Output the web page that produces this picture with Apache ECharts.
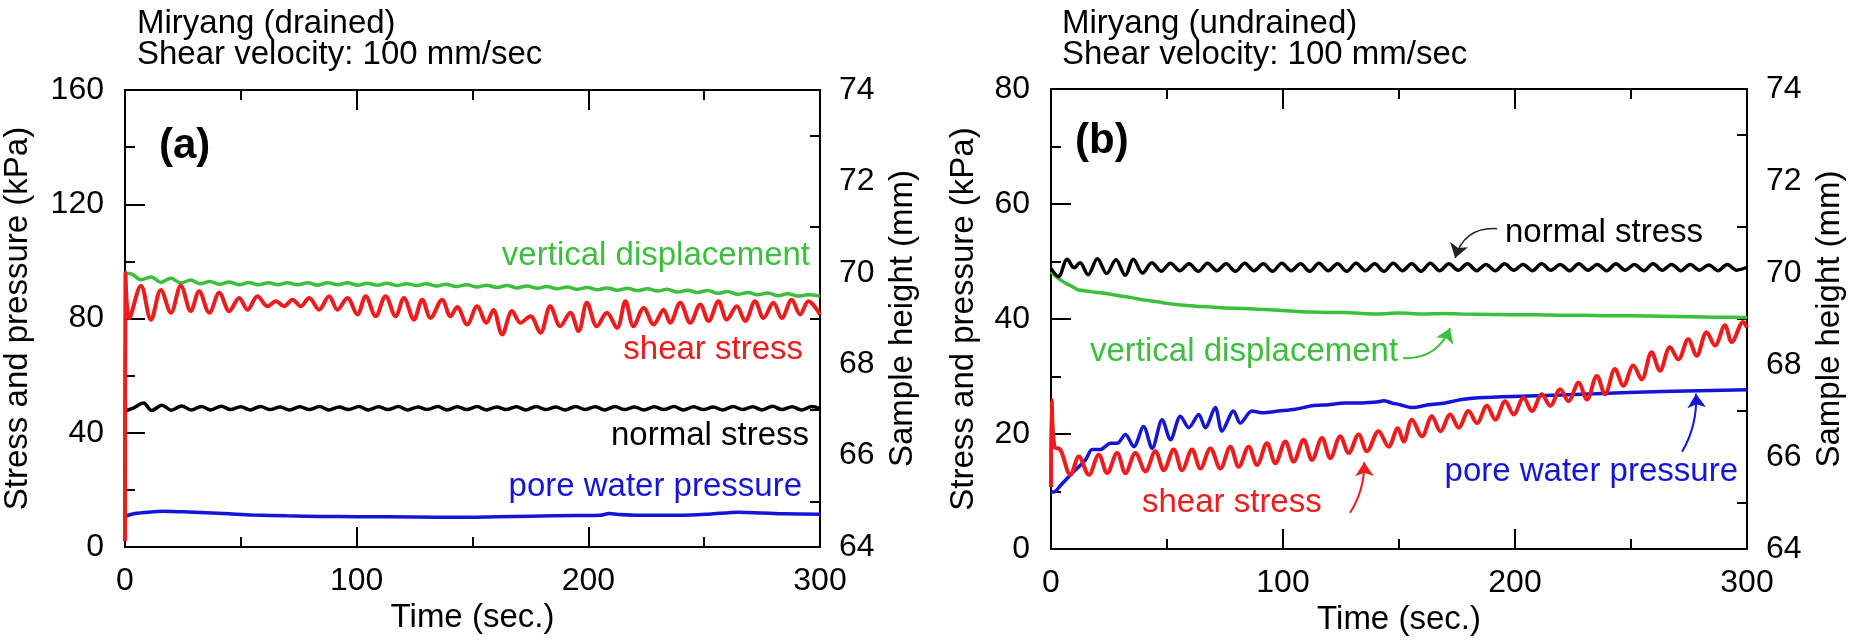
<!DOCTYPE html>
<html>
<head>
<meta charset="utf-8">
<script src="https://cdn.jsdelivr.net/npm/echarts@6/dist/echarts.min.js"></script>
<style>
html,body{margin:0;padding:0;background:#fff;}
#chart{width:1851px;height:643px;}
</style>
</head>
<body>
<div id="chart"></div>
<script>
// ---------- DATA ----------
// Panel (a): Miryang (drained)   [time (s), value]
const aShear = [[0,2],[0.2,96],[1.9,80.2],[6.9,91.5],[11.2,79.6],[15.5,90],[19.8,82],[24.1,91.5],[28.4,82.6],[32,89.5],[36.4,82],[40.7,89],[45,82.6],[49.3,87.2],[52.9,83.1],[57.2,87.8],[61.5,84.3],[65.1,86],[68.7,84.3],[72.3,86.6],[75.9,84.3],[79.5,87.2],[83.8,83.1],[88.1,87.8],[91.7,83.1],[96,87.2],[100.3,81.4],[103.9,87.8],[108.2,80.8],[112.5,87.8],[116.8,80.8],[120.4,87.2],[124.7,79.6],[128.3,86.6],[131.9,80.2],[136.9,86.6],[140.5,80.8],[143.4,84],[147.7,77.9],[152,84.3],[156,78.5],[159,83],[162.8,74.4],[167.1,82.6],[170.7,78.5],[175,80.8],[179.3,75],[183.6,84.3],[187.9,77.3],[192.2,82],[195.8,75.6],[199.4,85.5],[203.7,77.3],[208,82],[212.4,76.7],[216,86],[219.5,77.3],[223.9,83.7],[228.2,77.9],[232.5,83.1],[235.3,78.5],[239.7,85.5],[244,78.5],[248.3,84.9],[251.9,79.1],[256.2,86],[259.8,79.6],[264.1,84.3],[267.7,79.1],[272,86],[275.6,80.2],[279.9,85.5],[283.5,80.2],[287.8,86.6],[291.4,81.4],[295,86],[300,81.4]];
const aNormal = [[0,47.5],[2,48.2],[4,48.8],[8,50.4],[11.5,47.8],[16,49.6],[20,47.9],[24.5,49.4],[28.5,48.0],[33,49.2],[37,48.0],[41.5,49.3],[45.5,48.1],[50,49.1],[54,48.0],[58.5,49.2],[62.5,48.1],[67,49.0],[71,48.0],[75.5,49.1],[79.5,48.1],[84,49.2],[88,48.0],[92.5,49.0],[96.5,48.1],[101,49.2],[105,48.0],[109.5,49.1],[113.5,48.1],[118,49.2],[122,48.0],[126.5,49.0],[130.5,48.1],[135,49.2],[139,48.0],[143.5,49.1],[147.5,48.1],[152,49.2],[156,48.0],[160.5,49.0],[164.5,48.1],[169,49.1],[173,48.0],[177.5,49.2],[181.5,48.1],[186,49.0],[190,48.0],[194.5,49.2],[198.5,48.1],[203,49.1],[207,48.0],[211.5,49.2],[215.5,48.1],[220,49.0],[224,48.0],[228.5,49.1],[232.5,48.1],[237,49.2],[241,48.0],[245.5,49.1],[249.5,48.1],[254,49.0],[258,48.0],[262.5,49.2],[266.5,48.1],[271,49.1],[275,48.0],[279.5,49.3],[283.5,48.1],[288,49.1],[292,48.0],[296.5,49.2],[300,48.4]];
const aPore = [[0,10.5],[2,11.3],[5,11.8],[10,12.2],[16,12.5],[25,12.3],[35,12.0],[45,11.6],[55,11.2],[70,10.9],[85,10.7],[100,10.6],[125,10.5],[145,10.4],[160,10.6],[175,10.8],[195,11.0],[205,11.1],[209,11.7],[213,11.4],[225,11.1],[240,11.1],[252,11.5],[265,12.2],[275,11.9],[285,11.6],[300,11.5]];
const aHeight = [[0,69.99],[3,69.97],[6.9,69.85],[11.2,69.91],[15.5,69.79],[19.8,69.88],[24.1,69.78],[28.4,69.84],[32.5,69.76],[36.5,69.81],[41,69.75],[45,69.80],[49.5,69.74],[53.5,69.79],[57.5,69.74],[62,69.78],[66,69.74],[70,69.78],[74.5,69.74],[79,69.78],[83,69.73],[87.5,69.78],[92,69.74],[96,69.78],[100.5,69.73],[104.5,69.77],[109,69.73],[113,69.77],[117.5,69.72],[121.5,69.76],[126,69.72],[130,69.76],[134.5,69.71],[138.5,69.75],[143,69.70],[147.5,69.74],[152,69.69],[156,69.73],[160.5,69.68],[165,69.72],[169,69.67],[173.5,69.71],[178,69.66],[182,69.70],[186.5,69.65],[191,69.69],[195,69.64],[199.5,69.68],[204,69.63],[208,69.67],[212.5,69.62],[217,69.66],[221,69.61],[225.5,69.65],[230,69.60],[234,69.64],[238.5,69.58],[243,69.62],[247,69.57],[251.5,69.61],[256,69.55],[260,69.59],[264.5,69.53],[269,69.57],[273,69.52],[277.5,69.56],[282,69.50],[286,69.54],[290.5,69.49],[295,69.52],[300,69.49]];

// Panel (b): Miryang (undrained)
const bShear = [[0,10.8],[0.3,25.9],[1.5,17.8],[4,17.3],[8.4,12.9],[12,16.1],[16.3,12.9],[20.6,16.4],[24.2,13.2],[28.5,16.7],[32.1,13.2],[36.4,16.7],[40.7,13.5],[45,17.0],[48.6,13.7],[52.9,17.3],[56.5,13.7],[60.8,17.3],[64.4,14.0],[68.7,17.5],[73,14.0],[77.3,17.8],[80.9,14.3],[85.2,17.8],[88.8,14.6],[93.1,18.4],[96.7,14.9],[101,18.7],[104.6,15.2],[108.9,19.0],[112.5,15.5],[116.8,19.3],[120.4,15.8],[124.7,19.6],[128.3,16.7],[132.6,19.9],[136.2,17.0],[141.2,20.5],[145.5,17.8],[149.5,21.0],[152,18.7],[155.6,22.5],[159.9,19.6],[164.2,23.1],[167.8,20.5],[172.1,23.4],[175.7,21.1],[180,24.0],[183.6,21.9],[187.9,24.9],[191.5,22.5],[195.8,25.7],[199.4,23.4],[203.7,26.3],[207.3,24.0],[211.6,26.9],[215.2,24.9],[219.5,27.8],[223,25.7],[227.4,28.9],[231,26.0],[235.3,30.1],[238.8,26.9],[243.1,31.3],[246.7,28.4],[251,31.9],[254.6,29.5],[258.9,34.2],[262.5,31.0],[266.8,35.1],[270.4,33.0],[274.7,36.5],[278.3,33.6],[282.6,37.7],[286.2,35.4],[290.5,38.9],[293.4,36.0],[298.4,39.5],[300,38.5]];
const bNormal = [[0,48.8],[3.2,47.4],[7,50.4],[10,48.9],[12.5,49.8],[16,47.7],[20,50.5],[24,47.9],[28,50.3],[32,47.6],[35.5,50.4],[39.5,48.0],[43.5,49.8],[47.5,48.3],[51.5,49.7],[55.5,48.4],[59.5,49.6],[63.5,48.3],[67.5,49.7],[71.5,48.4],[75.5,49.6],[79.5,48.3],[83.5,49.7],[87.5,48.4],[91.5,49.6],[95.5,48.3],[99.5,49.7],[103.5,48.4],[107.5,49.6],[111.5,48.3],[115.5,49.7],[119.5,48.4],[123.5,49.6],[127.5,48.3],[131.5,49.7],[135.5,48.4],[139.5,49.6],[143.5,48.3],[147.5,49.7],[151.5,48.4],[155.5,49.6],[159.5,48.3],[163.5,49.7],[167.5,48.4],[171.5,49.6],[175.5,48.5],[179.5,49.6],[183.5,48.4],[187.5,49.5],[191.5,48.4],[195.5,49.6],[199.5,48.5],[203.5,49.5],[207.5,48.4],[211.5,49.6],[215.5,48.5],[219.5,49.5],[223.5,48.4],[227.5,49.6],[231.5,48.5],[235.5,49.5],[239.5,48.4],[243.5,49.6],[247.5,48.5],[251.5,49.5],[255.5,48.4],[259.5,49.6],[263.5,48.5],[267.5,49.5],[271.5,48.4],[275.5,49.5],[279.5,48.5],[283.5,49.4],[287.5,48.4],[291.5,49.5],[295.5,48.5],[300,49.0]];
const bPore = [[0,10.0],[1.2,9.9],[4,11.0],[9.1,13.2],[14.9,15.5],[17.7,17.3],[21.3,17.3],[25.6,18.4],[28.5,18.4],[32.1,19.9],[35.7,17.8],[39.9,21.3],[43.6,17.5],[47.9,22.5],[51.5,19.0],[55.8,23.1],[59.4,21.1],[63.7,23.4],[66.5,21.1],[70.8,24.6],[73.7,20.5],[78.7,24.0],[81.6,21.9],[86.6,24.0],[90.9,23.7],[98.1,24.0],[105.3,24.3],[112.5,24.9],[119.6,25.1],[126.8,25.4],[134,25.4],[141.2,25.6],[143.3,25.8],[146.9,25.4],[150.5,25.1],[155.6,24.6],[162.7,25.1],[169.9,25.4],[177,26.0],[184.3,26.3],[205.7,26.6],[234.5,27.0],[263.2,27.4],[300,27.7]];
const bHeight = [[0,70.03],[1.5,69.95],[3,69.89],[6.2,69.78],[9,69.71],[12,69.63],[15.5,69.61],[19.2,69.58],[23,69.56],[26.3,69.53],[30,69.50],[34,69.47],[40.7,69.41],[45,69.38],[50,69.34],[55,69.31],[60,69.29],[65,69.27],[69.4,69.26],[75,69.24],[83.8,69.23],[90,69.21],[98.1,69.19],[105,69.17],[112.5,69.15],[120,69.14],[126.8,69.14],[134,69.12],[141,69.11],[150,69.13],[160,69.11],[170,69.12],[177,69.11],[190,69.10],[200,69.09],[210,69.09],[220,69.08],[230,69.08],[240,69.07],[250,69.07],[263,69.06],[275,69.05],[287,69.04],[300,69.03]];

// Annotation arrows in panel (b), data coordinates [time, kPa]
const arrowNormal = [[192.3,55.7],[174.2,50.6]];
const arrowHeight = [[151.8,33.2],[172.0,38.4]];
const arrowShear  = [[128.9,6.3],[135.0,15.1]];
const arrowPore   = [[272.0,16.9],[278.0,27.0]];

const panelTitles = [["Miryang (drained)","Shear velocity: 100 mm/sec"],["Miryang (undrained)","Shear velocity: 100 mm/sec"]];
const xName = "Time (sec.)";
const yLeftName = "Stress and pressure (kPa)";
const yRightName = "Sample height (mm)";

// ---------- STYLE ----------
const FONT = '"Liberation Sans", Arial, Helvetica, sans-serif';
const FS = 33;      // names, titles, annotations
const FT = 32;      // tick labels
const RED = '#ee1c1c', GREEN = '#3cbf3c', BLUE = '#1515d8', BLACK = '#000';

const chart = echarts.init(document.getElementById('chart'), null, {renderer:'canvas'});

function xAx(grid, pos, withLabel){
  return {
    type:'value', gridIndex:grid, position:pos, min:0, max:300, interval:100,
    axisLine:{show:true, onZero:false, lineStyle:{color:BLACK, width:2}},
    axisTick:{show:true, inside:true, length:20, lineStyle:{color:BLACK, width:2}},
    minorTick:{show:true, splitNumber:2, length:10, lineStyle:{color:BLACK, width:2}},
    splitLine:{show:false},
    axisLabel:{show:withLabel, margin:18, fontSize:FT, fontFamily:FONT, color:BLACK, showMinLabel:true, showMaxLabel:true},
    name: withLabel ? xName : '', nameLocation:'middle', nameGap:54,
    nameTextStyle:{fontSize:FS, fontFamily:FONT, color:BLACK}
  };
}
function yLeft(grid, max, interval, gap){
  return {
    type:'value', gridIndex:grid, position:'left', min:0, max:max, interval:interval,
    axisLine:{show:true, onZero:false, lineStyle:{color:BLACK, width:2}},
    axisTick:{show:true, inside:true, length:20, lineStyle:{color:BLACK, width:2}},
    minorTick:{show:true, splitNumber:2, length:10, lineStyle:{color:BLACK, width:2}},
    splitLine:{show:false},
    axisLabel:{margin:21, fontSize:FT, fontFamily:FONT, color:BLACK, showMinLabel:true, showMaxLabel:true},
    name:yLeftName, nameLocation:'middle', nameGap:gap,
    nameTextStyle:{fontSize:FS, fontFamily:FONT, color:BLACK}
  };
}
function yRight(grid){
  return {
    type:'value', gridIndex:grid, position:'right', min:64, max:74, interval:2,
    axisLine:{show:true, onZero:false, lineStyle:{color:BLACK, width:2}},
    axisTick:{show:false, inside:true, length:20},
    minorTick:{show:true, splitNumber:2, length:10, lineStyle:{color:BLACK, width:2}},
    splitLine:{show:false},
    axisLabel:{margin:19, fontSize:FT, fontFamily:FONT, color:BLACK, showMinLabel:true, showMaxLabel:true},
    name:yRightName, nameLocation:'middle', nameGap:66,
    nameTextStyle:{fontSize:FS, fontFamily:FONT, color:BLACK}
  };
}
function line(data, color, xi, yi, smooth, w, z){
  return {type:'line', data:data, xAxisIndex:xi, yAxisIndex:yi, showSymbol:false, symbol:'none',
    smooth:smooth, lineStyle:{color:color, width:w}, itemStyle:{color:color}, z:z||2, animation:false};
}
function arrow(coords, color, curv, w){
  return {type:'lines', coordinateSystem:'cartesian2d', xAxisIndex:2, yAxisIndex:2,
    symbol:['none','arrow'], symbolSize:14, animation:false, z:5,
    lineStyle:{color:color, width:w, curveness:curv, opacity:1},
    data:[{coords:coords}]};
}
function txt(x, y, s, color, align, font){
  return {type:'text', x:x, y:y, silent:true,
    style:{text:s, fill:color, font:font || (FS+'px '+FONT), textAlign:align||'left', textVerticalAlign:'middle', align:align||'left', verticalAlign:'middle'}};
}

const option = {
  backgroundColor:'#fff',
  animation:false,
  grid:[
    {left:124, top:90, width:696, height:457},
    {left:1051, top:89, width:696, height:460}
  ],
  xAxis:[ xAx(0,'bottom',true), xAx(0,'top',false), xAx(1,'bottom',true), xAx(1,'top',false) ],
  yAxis:[ yLeft(0,160,40,91), yRight(0), yLeft(1,80,20,71), yRight(1) ],
  series:[
    line(aPore, BLUE, 0, 0, 0.3, 3.5),
    line(aNormal, BLACK, 0, 0, 0.35, 3.5),
    line(aHeight, GREEN, 0, 1, 0.35, 3.5),
    line(aShear, RED, 0, 0, 0.35, 4, 3),
    line(bHeight, GREEN, 2, 3, 0.3, 3.5),
    line(bNormal, BLACK, 2, 2, 0.35, 3.5),
    line(bPore, BLUE, 2, 2, 0.3, 3.5),
    line(bShear, RED, 2, 2, 0.35, 4, 3),
    arrow(arrowNormal, '#222', -0.4, 1.5),
    arrow(arrowHeight, GREEN, -0.35, 2),
    arrow(arrowShear, RED, -0.15, 2),
    arrow(arrowPore, BLUE, -0.15, 2)
  ],
  graphic:[
    txt(137, 24, panelTitles[0][0], BLACK),
    txt(137, 55, panelTitles[0][1], BLACK),
    txt(1062, 24, panelTitles[1][0], BLACK),
    txt(1062, 55, panelTitles[1][1], BLACK),
    txt(159, 146, '(a)', BLACK, 'left', 'bold 42px '+FONT),
    txt(1075, 141, '(b)', BLACK, 'left', 'bold 42px '+FONT),
    txt(810, 256, 'vertical displacement', GREEN, 'right'),
    txt(803, 350, 'shear stress', RED, 'right'),
    txt(809, 436, 'normal stress', BLACK, 'right'),
    txt(802, 487, 'pore water pressure', BLUE, 'right'),
    txt(1505, 233, 'normal stress', BLACK),
    txt(1090, 352, 'vertical displacement', GREEN),
    txt(1142, 503, 'shear stress', RED),
    txt(1738, 472, 'pore water pressure', BLUE, 'right')
  ]
};
chart.setOption(option);
</script>
</body>
</html>
